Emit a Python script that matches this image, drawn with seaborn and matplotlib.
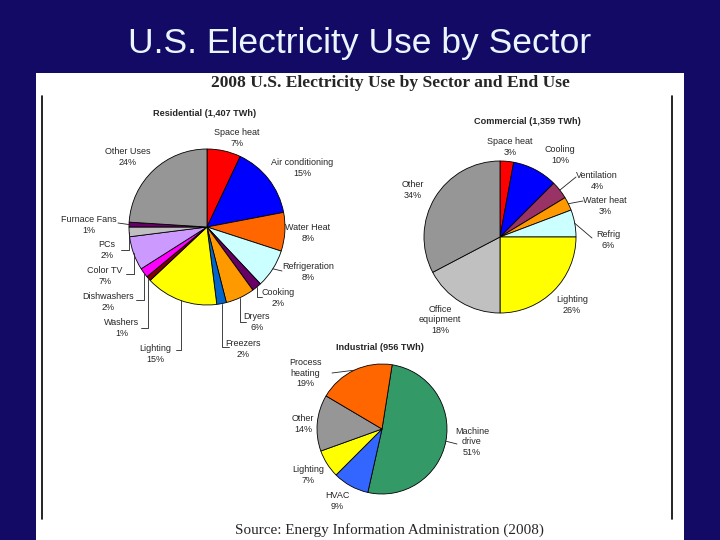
import numpy as np
import matplotlib
matplotlib.use("Agg")
import matplotlib.pyplot as plt
from matplotlib.patches import Rectangle
import seaborn as sns

sns.set_theme(style="white")
plt.rcParams['font.family'] = ['Liberation Sans', 'DejaVu Sans']

# ---------------- data ----------------
main_title = "U.S. Electricity Use by Sector"
panel_title = "2008 U.S. Electricity Use by Sector and End Use"
source_text = "Source: Energy Information Administration (2008)"

res_title = "Residential (1,407 TWh)"
res_labels = ["Space heat", "Air conditioning", "Water Heat", "Refrigeration", "Cooking",
              "Dryers", "Freezers", "Lighting", "Washers", "Dishwashers", "Color TV",
              "PCs", "Furnace Fans", "Other Uses"]
res_values = [7, 15, 8, 8, 2, 6, 2, 15, 1, 2, 7, 2, 1, 24]

com_title = "Commercial (1,359 TWh)"
com_labels = ["Space heat", "Cooling", "Ventilation", "Water heat", "Refrig",
              "Lighting", "Office\nequipment", "Other"]
com_values = [3, 10, 4, 3, 6, 26, 18, 34]

ind_title = "Industrial (956 TWh)"
ind_labels = ["Machine\ndrive", "HVAC", "Lighting", "Other", "Process\nheating"]
ind_values = [51, 9, 7, 14, 19]

# ---------------- styles / layout ----------------
navy = "#130a66"
res_colors = ['#ff0000', '#0000ff', '#ff6600', '#ccffff', '#660066', '#ff9900', '#0066cc',
              '#ffff00', '#800000', '#ff00ff', '#cc99ff', '#c0c0c0', '#660066', '#969696']
com_colors = ['#ff0000', '#0000ff', '#993366', '#ff9900', '#ccffff', '#ffff00', '#c0c0c0', '#969696']
ind_colors = ['#339966', '#3366ff', '#ffff00', '#969696', '#ff6600']

# label block centres (pixel coords)
res_pos = [(237, 138), (302, 168), (308, 233), (308, 272), (278, 298), (257, 322),
           (243, 349), (155, 354), (122, 328), (108, 302), (105, 276), (107, 250),
           (89, 225), (128, 157)]
com_pos = [(510, 147), (560, 155), (597, 181), (605, 206), (608, 240), (572, 305),
           (440, 320), (413, 190)]
ind_pos = [(472, 442), (337, 501), (308, 475), (303, 424), (305, 373)]

# leaders: slice index -> (anchor x, anchor y, elbow)
res_lead = {3: (282, 271, False), 4: (262, 297, True), 5: (246, 322, True),
            6: (229, 347, True), 7: (176, 350, True), 8: (141, 328, True),
            9: (136, 300, True), 10: (126, 274, True), 11: (121, 250, True),
            12: (118, 223, False)}
com_lead = {2: (576, 177, False), 3: (583, 201, False), 4: (592, 238, False)}
ind_lead = {0: (457, 444, False), 4: (332, 373, False)}

fig = plt.figure(figsize=(7.2, 5.4), dpi=100, facecolor=navy)
ax = fig.add_axes([0, 0, 1, 1])
ax.set_facecolor("none")

ax.add_patch(Rectangle((36, 73), 648, 470, facecolor="white", edgecolor="none", zorder=0))
ax.plot([42, 42], [96, 519], color="black", lw=1.2, zorder=1)
ax.plot([672, 672], [96, 519], color="black", lw=1.2, zorder=1)

fig.text(0.5, 1 - 44 / 540, main_title, color="#eaf6ff", fontsize=25.5,
         ha="center", va="center")
ax.text(390, 83, panel_title, family=["Liberation Serif"], fontweight="bold",
        fontsize=12.6, ha="center", va="center", zorder=3)
ax.text(389, 530, source_text, family=["Liberation Serif"], fontsize=10.9,
        ha="center", va="center", zorder=3)

lab_fs = 6.5


def draw_pie(values, labels, colors, center, radius, start, title, title_pos, pos, leads):
    # inverted y axis: start angle -90 points up, counterclock in data = clockwise on screen
    wedges, _ = ax.pie(values, colors=colors, center=center, radius=radius,
                       startangle=start, counterclock=True,
                       wedgeprops=dict(edgecolor="black", linewidth=0.6))
    for w in wedges:
        w.set_zorder(2)
    for i, (w, lab, v) in enumerate(zip(wedges, labels, values)):
        pct = f"{v}%"
        x, y = pos[i]
        ax.text(x, y, f"{lab}\n{pct}", fontsize=lab_fs, ha="center", va="center",
                linespacing=1.15, zorder=4)
        if i in leads:
            axx, ayy, elbow = leads[i]
            th = np.deg2rad((w.theta1 + w.theta2) / 2)
            px = center[0] + radius * np.cos(th)
            py = center[1] + radius * np.sin(th)
            if elbow:
                xs, ys = [px, px, axx], [py, ayy, ayy]
            else:
                xs, ys = [px, axx], [py, ayy]
            ax.plot(xs, ys, color="#222222", lw=0.6, zorder=3)
    ax.text(title_pos[0], title_pos[1], title, fontsize=6.6, fontweight="bold",
            ha="center", va="center", zorder=4)


draw_pie(res_values, res_labels, res_colors, (207, 227), 78, -90, res_title,
         (205, 113), res_pos, res_lead)
draw_pie(com_values, com_labels, com_colors, (500, 237), 76, -90, com_title,
         (527, 121), com_pos, com_lead)
draw_pie(ind_values, ind_labels, ind_colors, (382, 429), 65, -81, ind_title,
         (380, 347), ind_pos, ind_lead)

ax.set_aspect("auto")
ax.set_xlim(0, 720)
ax.set_ylim(540, 0)
ax.axis("off")

fig.savefig("out.png", dpi=100, facecolor=navy)
